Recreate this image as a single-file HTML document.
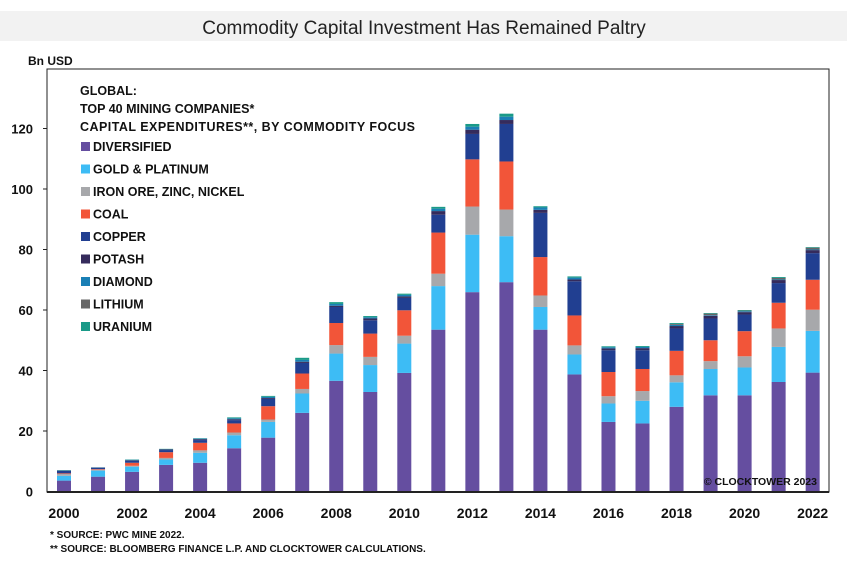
<!DOCTYPE html>
<html><head><meta charset="utf-8"><style>
html,body{margin:0;padding:0;background:#fff;}
svg{display:block;font-family:"Liberation Sans",sans-serif;}
</style></head><body>
<svg id="chart" width="847" height="561" viewBox="0 0 847 561">
<rect x="0" y="11" width="847" height="30" fill="#f2f2f2"/>
<text x="424" y="34" text-anchor="middle" font-size="19" fill="#222">Commodity Capital Investment Has Remained Paltry</text>
<text x="28" y="65" font-size="12" font-weight="bold" fill="#111">Bn USD</text>
<rect x="47" y="69" width="782" height="423" fill="none" stroke="#222" stroke-width="1"/>
<g id="bars"></g>
<g id="axes"></g>
<g font-weight="bold" font-size="12.5" fill="#111">
<text x="80" y="95">GLOBAL:</text>
<text x="80" y="113">TOP 40 MINING COMPANIES*</text>
<text x="80" y="131" textLength="335">CAPITAL EXPENDITURES**, BY COMMODITY FOCUS</text>
<g id="legend-items"></g>
</g>
<text x="817" y="485" text-anchor="end" font-size="10.5" font-weight="bold" fill="#111">© CLOCKTOWER 2023</text>
<text x="50" y="538" font-size="10" font-weight="bold" fill="#111">*  SOURCE: PWC MINE 2022.</text>
<text x="50" y="552" font-size="10" font-weight="bold" fill="#111">** SOURCE: BLOOMBERG FINANCE L.P. AND CLOCKTOWER CALCULATIONS.</text>
</svg>
<script>
const years = [2000,2001,2002,2003,2004,2005,2006,2007,2008,2009,2010,2011,2012,2013,2014,2015,2016,2017,2018,2019,2020,2021,2022];
const seriesNames = ["DIVERSIFIED","GOLD & PLATINUM","IRON ORE, ZINC, NICKEL","COAL","COPPER","POTASH","DIAMOND","LITHIUM","URANIUM"];
const seriesColors = ["#654ea0","#3dbcf5","#a7a8ab","#f25539","#213f91","#352b5c","#1a7fb5","#666666","#1a9a88"];
const diversified = [3.6,4.9,6.5,8.8,9.5,14.3,17.8,26.0,36.6,32.9,39.2,53.5,65.9,69.2,53.5,38.7,23.0,22.5,28.0,31.8,31.8,36.2,39.3];
const gold = [1.6,2.0,1.7,1.8,3.3,4.3,5.2,6.4,9.0,8.9,9.7,14.4,19.0,15.2,7.5,6.6,6.1,7.5,8.1,8.7,9.2,11.6,13.8];
const iron = [0.6,0.3,0.3,0.5,0.8,0.9,0.8,1.5,2.8,2.7,2.6,4.1,9.3,8.8,3.8,3.0,2.4,3.2,2.3,2.6,3.7,6.1,7.0];
const coal = [0.2,0.2,1.0,1.9,2.5,3.0,4.4,5.1,7.3,7.7,8.4,13.6,15.6,15.9,12.7,9.9,8.0,7.3,8.1,6.9,8.3,8.5,9.9];
const copper = [0.8,0.4,0.6,0.7,0.9,1.1,2.4,3.5,5.3,4.4,4.1,5.9,8.4,12.4,14.6,11.3,7.2,6.2,7.4,7.2,5.5,6.5,8.8];
const potash = [0.1,0.1,0.2,0.2,0.3,0.3,0.3,0.4,0.4,0.6,0.5,1.2,1.4,1.3,1.0,0.6,0.6,0.7,0.8,0.9,0.8,1.0,1.0];
const diamond = [0.1,0.1,0.2,0.1,0.2,0.3,0.4,0.6,0.6,0.4,0.5,0.8,1.0,1.1,0.8,0.6,0.4,0.4,0.4,0.2,0.3,0.2,0.2];
const lithium = [0,0,0,0,0,0,0,0,0,0,0,0,0,0,0,0,0,0,0.3,0.5,0.2,0.5,0.6];
const uranium = [0.1,0,0.1,0.1,0.1,0.3,0.3,0.7,0.6,0.4,0.4,0.6,0.9,1.0,0.4,0.4,0.3,0.3,0.3,0.2,0.2,0.3,0.2];
const yTicks = [0,20,40,60,80,100,120];
const xTickYears = [2000,2002,2004,2006,2008,2010,2012,2014,2016,2018,2020,2022];

const series = [diversified,gold,iron,coal,copper,potash,diamond,lithium,uranium];
const NS = "http://www.w3.org/2000/svg";
const y0 = 491.5, pxPerUnit = 3.025;
function yScale(v){ return y0 - v*pxPerUnit; }
function xScale(yr){ return 64 + (yr-2000)*34.03; }
const barW = 14;
const bars = document.getElementById("bars");
years.forEach((yr,i)=>{
  let acc = 0;
  series.forEach((s,k)=>{
    const v = s[i];
    if(!v) return;
    const r = document.createElementNS(NS,"rect");
    r.setAttribute("x", xScale(yr)-barW/2);
    r.setAttribute("y", yScale(acc+v));
    r.setAttribute("width", barW);
    r.setAttribute("height", v*pxPerUnit);
    r.setAttribute("fill", seriesColors[k]);
    
    
    bars.appendChild(r);
    acc += v;
  });
});
const axes = document.getElementById("axes");
const base = document.createElementNS(NS,"line");
base.setAttribute("x1",47);base.setAttribute("x2",829);base.setAttribute("y1",492);base.setAttribute("y2",492);
base.setAttribute("stroke","#222");base.setAttribute("stroke-width","2");


axes.appendChild(base);
yTicks.forEach(t=>{
  const y = yScale(t);
  if(t>0){
    const l = document.createElementNS(NS,"line");
    l.setAttribute("x1",43);l.setAttribute("x2",47);l.setAttribute("y1",y);l.setAttribute("y2",y);
    l.setAttribute("stroke","#222");
    
    
    axes.appendChild(l);
  }
  const tx = document.createElementNS(NS,"text");
  tx.setAttribute("x",33);tx.setAttribute("y",y+5);tx.setAttribute("text-anchor","end");
  tx.setAttribute("font-size","13");tx.setAttribute("font-weight","bold");tx.setAttribute("fill","#111");
  tx.textContent = t;
  
  
  axes.appendChild(tx);
});
xTickYears.forEach(yr=>{
  const tx = document.createElementNS(NS,"text");
  tx.setAttribute("x",xScale(yr));tx.setAttribute("y",518);tx.setAttribute("text-anchor","middle");
  tx.setAttribute("font-size","14");tx.setAttribute("font-weight","bold");tx.setAttribute("fill","#111");
  tx.textContent = yr;
  
  
  axes.appendChild(tx);
});
const leg = document.getElementById("legend-items");
seriesNames.forEach((n,k)=>{
  const y = 146 + k*22.5;
  const sq = document.createElementNS(NS,"rect");
  sq.setAttribute("x",81);sq.setAttribute("y",y-4);sq.setAttribute("width",9);sq.setAttribute("height",9);
  sq.setAttribute("fill",seriesColors[k]);
  
  
  leg.appendChild(sq);
  const tx = document.createElementNS(NS,"text");
  tx.setAttribute("x",93);tx.setAttribute("y",y+5);
  tx.textContent = n;
  
  
  leg.appendChild(tx);
});
</script>
</body></html>
